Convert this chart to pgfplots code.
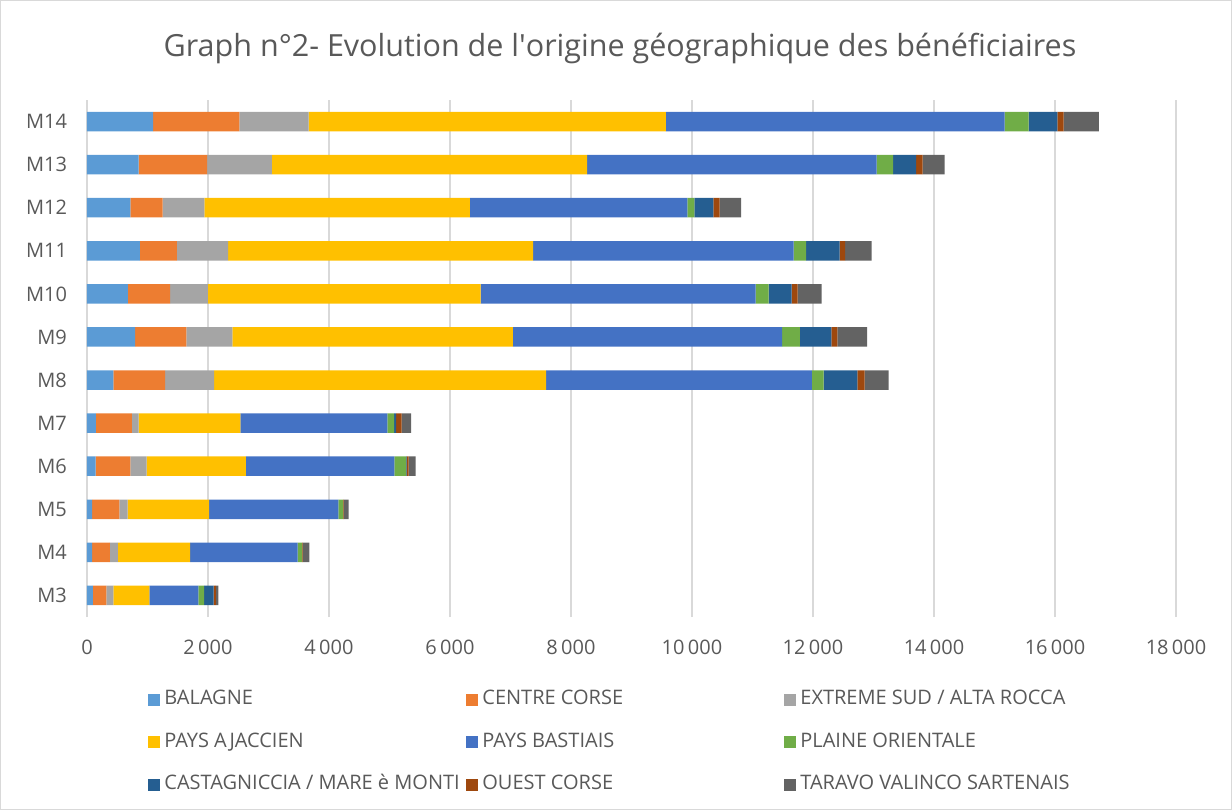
\documentclass[border=0pt]{standalone}
\usepackage{pgfplots}
\pgfplotsset{compat=1.18}
\usepackage{pgfplotstable}
\usepackage{fontspec}
\setmainfont{Open Sans}
\definecolor{cbal}{HTML}{5B9BD5}
\definecolor{ccen}{HTML}{ED7D31}
\definecolor{cext}{HTML}{A5A5A5}
\definecolor{caja}{HTML}{FFC000}
\definecolor{cbas}{HTML}{4472C4}
\definecolor{cpla}{HTML}{70AD47}
\definecolor{ccas}{HTML}{255E91}
\definecolor{coue}{HTML}{9E480E}
\definecolor{ctar}{HTML}{636363}
\definecolor{txt}{HTML}{595959}
\definecolor{grd}{HTML}{D9D9D9}

\pgfplotstableread{
idx bal cen ext aja bas pla cas oue tar
1 99 221 115 595 810 94 160 38 39
2 83 297 132 1191 1779 72 0 10 111
3 83 451 138 1345 2138 77 0 10 83
4 143 573 270 1642 2452 193 11 33 116
5 145 595 114 1682 2428 114 32 89 158
6 436 854 810 5489 4393 195 556 119 396
7 797 847 759 4636 4452 290 521 100 491
8 677 695 626 4509 4546 213 379 101 396
9 873 613 848 5040 4306 207 551 94 438
10 715 537 689 4389 3593 118 314 101 355
11 854 1132 1068 5211 4788 272 379 106 367
12 1094 1423 1145 5906 5598 396 479 101 585
}\data

\newcommand{\legtxt}[1]{\makebox[149pt][l]{#1}}

\begin{document}
\begin{tikzpicture}
\draw[grd, line width=0.6pt] (0.3pt,0.3pt) rectangle (615.7pt,404.7pt);
\node[text=txt, font=\fontsize{15.25}{18}\selectfont] at (310pt,381pt) {Graph n°2- Evolution de l\textquotesingle origine géographique des bénéficiaires};
\begin{axis}[
  at={(43.5pt,96.5pt)}, anchor=south west,
  scale only axis, width=544.5pt, height=258.5pt,
  xbar stacked, bar width=9.75pt,
  xmin=0, xmax=18000, ymin=0.5, ymax=12.5,
  axis line style={draw=none},
  major tick length=0pt,
  scaled x ticks=false,
  xmajorgrids, grid style={grd, line width=0.75pt},
  xtick={0,2000,4000,6000,8000,10000,12000,14000,16000,18000},
  xticklabels={0,2\,000,4\,000,6\,000,8\,000,10\,000,12\,000,14\,000,16\,000,18\,000},
  ytick={1,...,12},
  yticklabels={M3,M4,M5,M6,M7,M8,M9,M10,M11,M12,M13,M14},
  tick label style={text=txt, font=\fontsize{10}{12}\selectfont},
  xticklabel style={yshift=-8pt},
  yticklabel style={xshift=-6.5pt},
  legend columns=3,
  legend style={draw=none, fill=none, at={(axis description cs:0.056,-0.134)}, anchor=north west,
    font=\fontsize{10}{12}\selectfont, text=txt, inner sep=0pt,
    row sep=8.25pt, nodes={inner sep=2pt, text height=7pt, text depth=2pt}},
  legend image code/.code={\fill[#1,draw=none] (0pt,-3pt) rectangle (6pt,3pt);},
  every axis plot/.append style={draw=none},
]
\addplot[fill=cbal] table[x=bal,y=idx]{\data};
\addplot[fill=ccen] table[x=cen,y=idx]{\data};
\addplot[fill=cext] table[x=ext,y=idx]{\data};
\addplot[fill=caja] table[x=aja,y=idx]{\data};
\addplot[fill=cbas] table[x=bas,y=idx]{\data};
\addplot[fill=cpla] table[x=pla,y=idx]{\data};
\addplot[fill=ccas] table[x=cas,y=idx]{\data};
\addplot[fill=coue] table[x=oue,y=idx]{\data};
\addplot[fill=ctar] table[x=tar,y=idx]{\data};
\legend{\legtxt{BALAGNE},\legtxt{CENTRE CORSE},\legtxt{EXTREME SUD / ALTA ROCCA},\legtxt{PAYS AJACCIEN},\legtxt{PAYS BASTIAIS},\legtxt{PLAINE ORIENTALE},\legtxt{CASTAGNICCIA / MARE è MONTI},\legtxt{OUEST CORSE},\legtxt{TARAVO VALINCO SARTENAIS}}
\end{axis}
\end{tikzpicture}
\end{document}
